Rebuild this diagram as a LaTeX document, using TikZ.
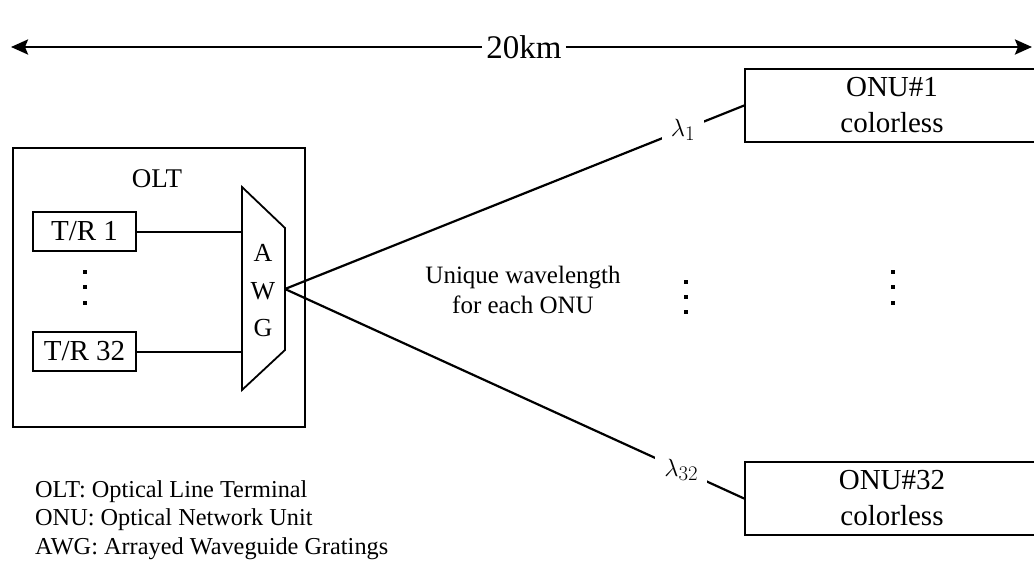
\documentclass[tikz,border=0pt]{standalone}
\usepackage{fontspec}
\setmainfont{Liberation Serif}
\usetikzlibrary{arrows.meta,positioning,calc}

\begin{document}
\begin{tikzpicture}[x=1pt,y=-1pt,
    unitbox/.style={draw,line width=1.8pt,inner sep=0pt,align=center,
      font=\fontsize{29}{36}\selectfont},
    fibre/.style={line width=2.2pt},
    lambdalab/.style={fill=white,inner sep=9pt,font=\fontsize{28}{30}\selectfont},
    plaintext/.style={font=\fontsize{24.3}{28.5}\selectfont}]
    \useasboundingbox (0,0) rectangle (1034,565);
    % span of the link
    \node[fill=white,inner sep=4pt,font=\fontsize{33}{36}\selectfont] (span) at (524,47) {20km};
    \coordinate (spanL) at (11,47);
    \coordinate (spanR) at (1032,47);
    \draw[line width=2.6pt,-{Stealth[length=17pt,width=15pt,inset=3pt]}] (span) -- (spanL);
    \draw[line width=2.6pt,-{Stealth[length=17pt,width=15pt,inset=3pt]}] (span) -- (spanR);
    % OLT with transceivers
    \node[unitbox,minimum width=292pt,minimum height=279pt] (olt) at (159,287.5) {};
    \node[font=\fontsize{27}{30}\selectfont] (oltname) at (157,179) {OLT};
    \node[unitbox,minimum width=103pt,minimum height=39pt] (tr1) at (84.5,231.5) {T/R 1};
    \node[unitbox,minimum width=103pt,minimum height=39pt] (tr32) at (84.5,351.5) {T/R 32};
    \foreach \y in {272,287,303}
      \fill (83,\y-2) rectangle ++(4,4);
    % AWG
    \draw[line width=1.8pt] (242,187) -- (285,228) -- (285,350) -- (242,390) -- cycle;
    \coordinate (awgin) at (242,289);
    \coordinate (awgout) at (285,289);
    \node[align=center,font=\fontsize{26}{37.5}\selectfont] (awg) at (263,291) {A\\W\\G};
    \draw[line width=2pt] (tr1) -- (tr1 -| awgin);
    \draw[line width=2pt] (tr32) -- (tr32 -| awgin);
    % ONUs
    \node[unitbox,minimum width=294pt,minimum height=73pt] (onu1) at (892,105.5)
      {ONU\#1\\colorless};
    \node[unitbox,minimum width=294pt,minimum height=73pt] (onu32) at (892,498.5)
      {ONU\#32\\colorless};
    \foreach \y in {272,287,303}
      \fill (891,\y-2) rectangle ++(4,4);
    % fibres
    \draw[fibre] (awgout) -- node[lambdalab,pos=0.867] (lam1) {$\lambda_1$} (onu1.west);
    \draw[fibre] (awgout) -- node[lambdalab,pos=0.863] (lam32) {$\lambda_{32}$} (onu32.west);
    \node[align=center,font=\fontsize{25}{30}\selectfont] (note) at (523,290)
      {Unique wavelength\\for each ONU};
    \foreach \y in {282,297,312}
      \fill (684,\y-2) rectangle ++(4,4);
    % legend
    \node[plaintext,align=left,anchor=west,inner sep=2pt] (legend) at (33,520)
      {OLT: Optical Line Terminal\\ONU: Optical Network Unit\\AWG: Arrayed Waveguide Gratings};
\end{tikzpicture}
\end{document}
